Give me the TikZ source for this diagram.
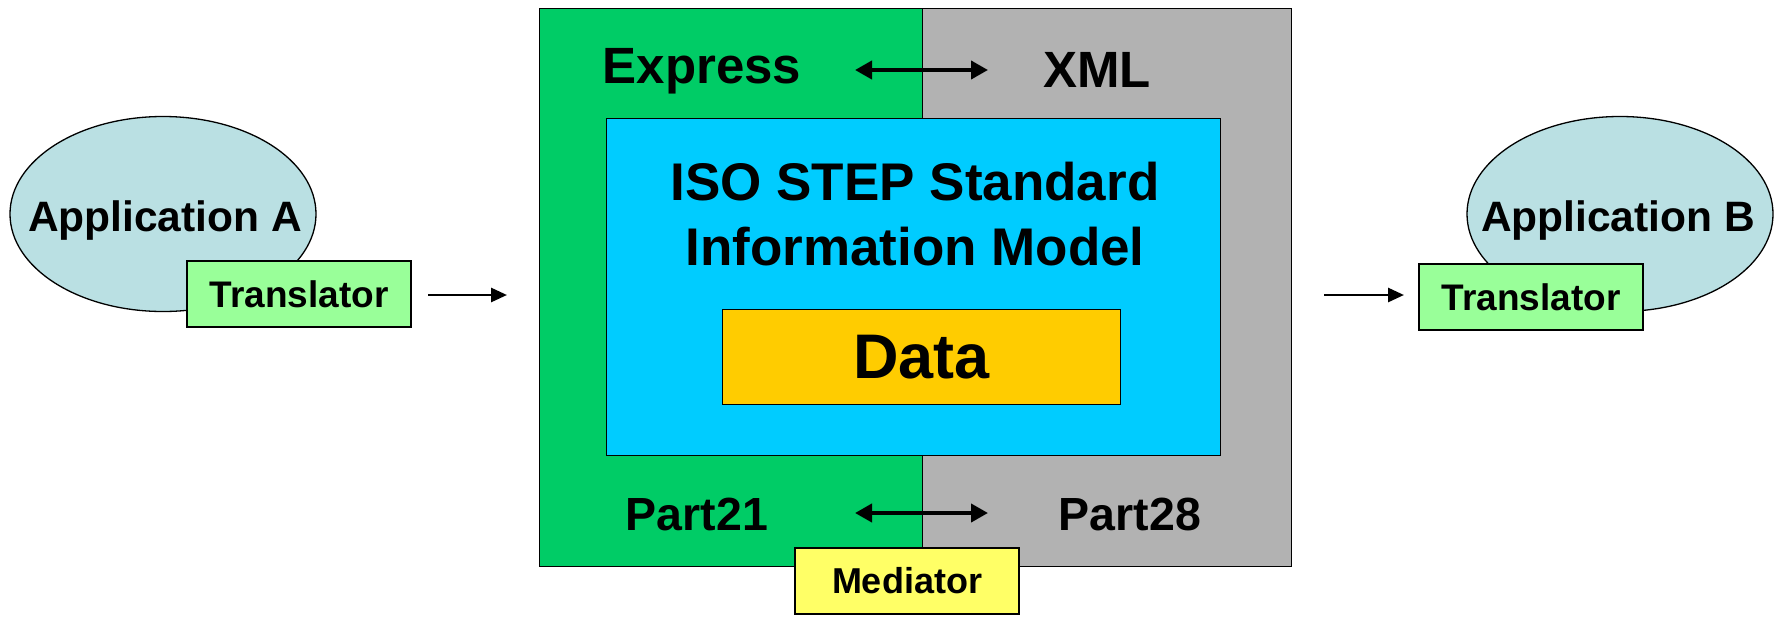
\documentclass[tikz,border=0pt]{standalone}
\usepackage{fontspec}
\setmainfont{Liberation Sans}
\usetikzlibrary{arrows.meta,shapes.geometric}
\definecolor{grn}{HTML}{00CC66}
\definecolor{gry}{HTML}{B2B2B2}
\definecolor{cyn}{HTML}{00CCFF}
\definecolor{dat}{HTML}{FFCC00}
\definecolor{trn}{HTML}{99FF99}
\definecolor{med}{HTML}{FFFF66}
\definecolor{app}{HTML}{BAE0E3}
\newcommand\fsz[1]{\fontsize{#1}{#1}\selectfont\bfseries}
\begin{document}
\begin{tikzpicture}[x=1pt,y=-1pt,
  bord/.style={draw=black,line width=1.3pt,inner sep=0pt},
  lbl/.style={inner sep=0pt,anchor=base},
  appshape/.style={bord,ellipse,fill=app,minimum width=306pt,minimum height=195pt},
  trbox/.style={bord,fill=trn,minimum width=224pt,minimum height=66pt,font=\fsz{37}},
  onearrow/.style={line width=2.8pt,-{Triangle[length=16pt,width=14pt]}},
  twoarrow/.style={line width=4pt,{Triangle[length=17pt,width=18pt]}-{Triangle[length=17pt,width=18pt]}}]
\useasboundingbox (0,0) rectangle (1780,616);

% applications
\node[appshape] (appA) at (163,214) {};
\node[lbl,font=\fsz{42.5}] (appAt) at (165,231) {Application A};
\node[trbox] (trA) at (299,294) {Translator};

\node[appshape] (appB) at (1620,214) {};
\node[lbl,font=\fsz{42.5}] (appBt) at (1618,231) {Application B};
\node[trbox] (trB) at (1531,297) {Translator};

% main box
\fill[grn] (539,8) rectangle (922,566);
\fill[gry] (922,8) rectangle (1291,566);
\draw[line width=1pt] (922,8) -- (922,566);
\node[bord,anchor=north west,minimum width=752pt,minimum height=558pt] (outer) at (539,8) {};

\node[lbl,font=\fsz{51}] (express) at (702,83) {Express};
\node[lbl,font=\fsz{51}] (xml) at (1097,87) {XML};
\coordinate (e1) at (855,70);
\coordinate (e2) at (988,70);
\draw[twoarrow] (e1) -- (e2);

\node[bord,fill=cyn,anchor=north west,minimum width=614pt,minimum height=337pt] (model) at (606,118) {};
\node[lbl,font=\fsz{53}] (iso1) at (915,200) {ISO STEP Standard};
\node[lbl,font=\fsz{53}] (iso2) at (915,265) {Information Model};
\node[bord,fill=dat,anchor=north west,minimum width=398pt,minimum height=95pt,font=\fsz{63}] (data) at (722,309) {Data};

\node[lbl,font=\fsz{46.5}] (p21) at (697,530) {Part21};
\node[lbl,font=\fsz{46.5}] (p28) at (1130,530) {Part28};
\coordinate (p1) at (855,513);
\coordinate (p2) at (988,513);
\draw[twoarrow] (p1) -- (p2);

\node[bord,fill=med,minimum width=224pt,minimum height=66pt,font=\fsz{36}] (med) at (907,581) {Mediator};

% flow arrows
\coordinate (a1) at (428,295);
\coordinate (a2) at (507,295);
\draw[onearrow] (a1) -- (a2);
\coordinate (b1) at (1324,295);
\coordinate (b2) at (1404,295);
\draw[onearrow] (b1) -- (b2);
\end{tikzpicture}
\end{document}
